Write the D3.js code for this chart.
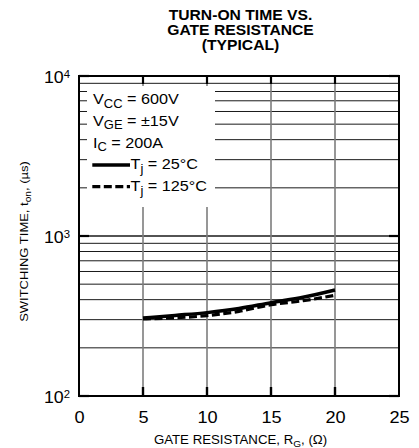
<!DOCTYPE html>
<html>
<head>
<meta charset="utf-8">
<script src="https://cdn.jsdelivr.net/npm/d3@7"></script>
<style>
  body { margin: 0; background: #fff; }
  text { font-family: "Liberation Sans", Arial, Helvetica, sans-serif; fill: #000; }
</style>
</head>
<body>
<div id="chart"></div>
<script>
// values
const rg = [5, 7.5, 10, 12.5, 15, 17.5, 20];
const tOn25 = [307, 319, 332, 352, 383, 414, 460];
const tOn125 = [303, 308, 318, 338, 372, 394, 426];
const xTickVals = [0, 5, 10, 15, 20, 25];
const xGridVals = [5, 10, 15, 20];
const yDecades = [100, 1000, 10000];
const yDecadeExp = ['2', '3', '4'];
const titleLines = ['TURN-ON TIME VS.', 'GATE RESISTANCE', '(TYPICAL)'];
const legendCond = [
  ['V', 'CC', ' = 600V'],
  ['V', 'GE', ' = \u00b115V'],
  ['I', 'C', ' = 200A']
];
const legendSeries = [
  ['T', 'j', ' = 25\u00b0C'],
  ['T', 'j', ' = 125\u00b0C']
];

const width = 419;
const height = 448;
const plot = { left: 79, right: 399, top: 76, bottom: 396 };

const svg = d3.select('#chart')
  .append('svg')
  .attr('width', width)
  .attr('height', height);

const x = d3.scaleLinear()
  .domain([0, 25])
  .range([plot.left, plot.right]);

const y = d3.scaleLog()
  .domain([100, 10000])
  .range([plot.bottom, plot.top]);

// text is a bit wider than plain Arial in the original, so stretch along baseline
const placeText = (parent, px, py, sx, rot) => parent.append('g')
  .attr('transform', `translate(${px},${py}) rotate(${rot || 0}) scale(${sx},1)`)
  .append('text');

const addSub = (t, main, sub, rest, size, subSize, shift) => {
  t.append('tspan').style('font-size', size + 'px').text(main);
  t.append('tspan').style('font-size', subSize + 'px').attr('dy', shift).text(sub);
  t.append('tspan').style('font-size', size + 'px').attr('dy', -shift).text(rest);
};

// horizontal grid
svg.append('g')
  .selectAll('line')
  .data(y.ticks())
  .enter().append('line')
  .attr('x1', plot.left)
  .attr('x2', plot.right)
  .attr('y1', d => y(d))
  .attr('y2', d => y(d))
  .attr('stroke', '#1a1a1a')
  .attr('stroke-width', d => yDecades.includes(d) ? 1.4 : 1);

// vertical grid
svg.append('g')
  .selectAll('line')
  .data(xGridVals)
  .enter().append('line')
  .attr('x1', d => x(d))
  .attr('x2', d => x(d))
  .attr('y1', plot.top)
  .attr('y2', plot.bottom)
  .attr('stroke', '#7d7d7d')
  .attr('stroke-width', 1.6);

// legend background hides grid behind it
svg.append('rect')
  .attr('x', 87)
  .attr('y', 86)
  .attr('width', 128)
  .attr('height', 121)
  .attr('fill', '#fff');

// ticks on top and bottom
svg.append('g')
  .selectAll('line')
  .data(xGridVals)
  .enter().append('line')
  .attr('x1', d => x(d))
  .attr('x2', d => x(d))
  .attr('y1', plot.top)
  .attr('y2', plot.top + 8)
  .attr('stroke', '#000')
  .attr('stroke-width', 2.2);

svg.append('g')
  .selectAll('line')
  .data(xGridVals)
  .enter().append('line')
  .attr('x1', d => x(d))
  .attr('x2', d => x(d))
  .attr('y1', plot.bottom)
  .attr('y2', plot.bottom - 9)
  .attr('stroke', '#000')
  .attr('stroke-width', 2.4);

// major y ticks, both sides
[plot.left, plot.right].forEach((edge, i) => {
  svg.append('g')
    .selectAll('line')
    .data(yDecades)
    .enter().append('line')
    .attr('x1', edge)
    .attr('x2', i === 0 ? edge + 10 : edge - 10)
    .attr('y1', d => y(d))
    .attr('y2', d => y(d))
    .attr('stroke', '#000')
    .attr('stroke-width', 2.2);
});

// frame
svg.append('rect')
  .attr('x', plot.left)
  .attr('y', plot.top)
  .attr('width', plot.right - plot.left)
  .attr('height', plot.bottom - plot.top)
  .attr('fill', 'none')
  .attr('stroke', '#000')
  .attr('stroke-width', 2);

// curves
const line = d3.line()
  .x((d, i) => x(rg[i]))
  .y(d => y(d))
  .curve(d3.curveMonotoneX);

svg.append('path')
  .attr('d', line(tOn25))
  .attr('fill', 'none')
  .attr('stroke', '#000')
  .attr('stroke-width', 3.5);

svg.append('path')
  .attr('d', line(tOn125))
  .attr('fill', 'none')
  .attr('stroke', '#000')
  .attr('stroke-width', 3.2)
  .attr('stroke-dasharray', '8,3.5');

// x axis labels
const xAxis = d3.axisBottom(x)
  .tickValues(xTickVals)
  .tickSize(0)
  .tickPadding(15);

const gx = svg.append('g')
  .attr('transform', `translate(0,${plot.bottom})`)
  .call(xAxis);
gx.select('.domain').remove();
gx.selectAll('text')
  .attr('fill', '#000')
  .style('font-size', '16.5px')
  .style('font-family', '"Liberation Sans", Arial, sans-serif')
  .attr('transform', 'scale(1.1,1)');

// y decade labels with superscripts
yDecades.forEach((d, i) => {
  const t = placeText(svg, 70, y(d) + 7, 1.08)
    .attr('text-anchor', 'end');
  t.append('tspan').style('font-size', '16.5px').text('10');
  t.append('tspan').style('font-size', '10.5px').attr('dy', -4.8).text(yDecadeExp[i]);
});

// title
titleLines.forEach((s, i) => {
  placeText(svg, 240.5, 20 + i * 15.2, 1.12)
    .attr('text-anchor', 'middle')
    .style('font-size', '14px')
    .style('font-weight', 'bold')
    .text(s);
});

// axis titles
const xt = placeText(svg, 240.5, 444, 1.06).attr('text-anchor', 'middle');
addSub(xt, 'GATE RESISTANCE, R', 'G', ', (\u03a9)', 12.5, 9.5, 3);

const yt = placeText(svg, 28, 241.5, 1.13, -90).attr('text-anchor', 'middle');
addSub(yt, 'SWITCHING TIME, t', 'on', ', (\u00b5s)', 11.5, 9, 3);

// legend
legendCond.forEach((c, i) => {
  const t = placeText(svg, 93, 104 + i * 21.8, 1.08);
  addSub(t, c[0], c[1], c[2], 15, 12, 3.5);
});

legendSeries.forEach((c, i) => {
  const by = 104 + (i + 3) * 21.8;
  svg.append('line')
    .attr('x1', 92.3)
    .attr('x2', 130)
    .attr('y1', by - 4.5)
    .attr('y2', by - 4.5)
    .attr('stroke', '#000')
    .attr('stroke-width', i === 0 ? 3.5 : 3.2)
    .attr('stroke-dasharray', i === 0 ? null : '8,3.5');
  const t = placeText(svg, 130.5, by, 1.08);
  addSub(t, c[0], c[1], c[2], 15, 12, 3.5);
});
</script>
</body>
</html>
